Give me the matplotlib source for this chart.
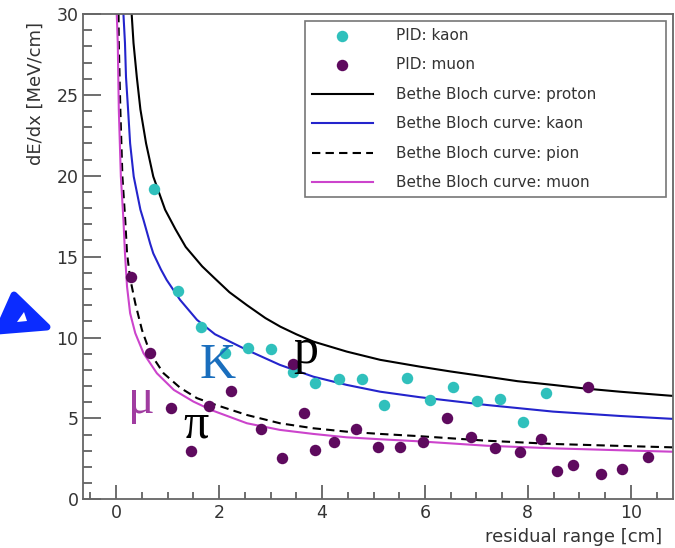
import numpy as np
import matplotlib
matplotlib.use("Agg")
import matplotlib.pyplot as plt
from matplotlib.patches import Polygon

# -----------------------------
# Data
# -----------------------------
kaon_x = [0.74, 1.20, 1.65, 2.12, 2.56, 3.00, 3.44, 3.87, 4.32, 4.77,
          5.21, 5.66, 6.10, 6.55, 7.02, 7.46, 7.91, 8.36]
kaon_y = [19.2, 12.9, 10.65, 9.05, 9.37, 9.3, 7.89, 7.21, 7.44, 7.44,
          5.83, 7.52, 6.14, 6.93, 6.10, 6.20, 4.76, 6.55]

muon_x = [0.28, 0.66, 1.06, 1.45, 1.81, 2.23, 2.81, 3.22, 3.43, 3.65,
          3.87, 4.24, 4.66, 5.08, 5.51, 5.96, 6.42, 6.90, 7.37, 7.84,
          8.25, 8.56, 8.87, 9.17, 9.43, 9.82, 10.34]
muon_y = [13.73, 9.03, 5.67, 2.99, 5.77, 6.72, 4.35, 2.57, 8.35, 5.36,
          3.05, 3.56, 4.33, 3.25, 3.25, 3.56, 5.05, 3.87, 3.19, 2.93,
          3.73, 1.77, 2.14, 6.93, 1.56, 1.87, 2.63]

# Bethe Bloch curves
proton_x = [0.30, 0.336, 0.40, 0.47, 0.58, 0.72, 0.95, 1.15, 1.35, 1.67, 1.9,
            2.2, 2.54, 2.9, 3.19, 3.5, 3.83, 4.48, 5.13, 5.9, 6.5, 7.2, 7.8,
            8.49, 9.1, 9.79, 10.3, 10.82]
proton_y = [30.0, 28.2, 26.1, 24.1, 22.0, 19.95, 17.9, 16.7, 15.6, 14.4, 13.7,
            12.8, 12.0, 11.2, 10.67, 10.2, 9.75, 9.13, 8.62, 8.20, 7.9, 7.58, 7.3,
            7.07, 6.85, 6.65, 6.52, 6.39]

kaonc_x = [0.14, 0.17, 0.19, 0.23, 0.27, 0.34, 0.47, 0.53, 0.66, 0.72, 0.87,
           0.98, 1.24, 1.57, 1.92, 2.54, 3.18, 3.83, 4.48, 5.13, 5.9, 7.2,
           8.49, 9.79, 10.82]
kaonc_y = [30.0, 28.2, 26.1, 24.1, 22.0, 19.95, 17.9, 17.27, 15.8, 15.2, 14.2,
           13.56, 12.33, 11.09, 10.2, 9.23, 8.31, 7.58, 7.07, 6.65, 6.31, 5.83,
           5.42, 5.15, 4.97]

pion_x = [0.045, 0.05, 0.08, 0.12, 0.175, 0.21, 0.27, 0.37, 0.50, 0.66, 0.92,
          1.24, 1.57, 1.92, 2.54, 3.18, 3.83, 4.48, 5.13, 5.9, 7.2, 8.49,
          9.79, 10.82]
pion_y = [30.0, 28.2, 24.1, 19.95, 17.27, 15.2, 13.67, 12.12, 10.47, 9.03, 7.79,
          6.9, 6.25, 5.85, 5.21, 4.70, 4.39, 4.18, 4.04, 3.90, 3.62, 3.42,
          3.30, 3.21]

muonc_x = [0.01, 0.03, 0.05, 0.09, 0.14, 0.17, 0.21, 0.27, 0.37, 0.53, 0.79,
           1.12, 1.50, 1.86, 2.54, 3.18, 3.83, 4.48, 5.13, 5.9, 7.2, 8.49,
           9.79, 10.82]
muonc_y = [30.0, 28.2, 24.1, 19.95, 17.27, 15.2, 13.15, 11.5, 10.27, 9.03, 7.79,
           6.76, 6.04, 5.5, 4.70, 4.29, 4.04, 3.83, 3.71, 3.58, 3.31, 3.15,
           3.03, 2.94]

x_ticks = [0, 2, 4, 6, 8, 10]
y_ticks = [0, 5, 10, 15, 20, 25, 30]

# -----------------------------
# Figure
# -----------------------------
fig = plt.figure(figsize=(6.75, 5.48), dpi=100)
ax = fig.add_axes([0.1234, 0.0889, 0.8736, 0.8856])

ax.plot(proton_x, proton_y, color="black", lw=1.5,
        label="Bethe Bloch curve: proton", zorder=2)
ax.plot(kaonc_x, kaonc_y, color="#2424cc", lw=1.5,
        label="Bethe Bloch curve: kaon", zorder=2)
ax.plot(pion_x, pion_y, color="black", lw=1.5, ls=(0, (4, 2.5)),
        label="Bethe Bloch curve: pion", zorder=2)
ax.plot(muonc_x, muonc_y, color="#cc44cc", lw=1.5,
        label="Bethe Bloch curve: muon", zorder=2)

ax.scatter(kaon_x, kaon_y, s=68, color="#30c0bc", lw=0,
           label="PID: kaon", zorder=3)
ax.scatter(muon_x, muon_y, s=68, color="#5e0a5e", lw=0,
           label="PID: muon", zorder=3)

ax.set_xlim(-0.64, 10.82)
ax.set_ylim(0, 30)

ax.set_xticks(x_ticks)
ax.set_yticks(y_ticks)
ax.set_xticks(np.arange(-0.5, 10.8, 0.5), minor=True)
ax.set_yticks(np.arange(0, 30.1, 1), minor=True)
ax.tick_params(which="both", direction="in", top=False, right=False,
               color="#555555", labelcolor="#333333", labelsize=12.5)
ax.tick_params(axis="y", which="major", length=12.7, width=1.2)
ax.tick_params(axis="y", which="minor", length=6.3, width=1.2)
ax.tick_params(axis="x", which="major", length=10.4, width=1.2)
ax.tick_params(axis="x", which="minor", length=5.2, width=1.2)
for s in ax.spines.values():
    s.set_color("#666666")
    s.set_linewidth(1.3)

# axis titles (ROOT style: at the end of the axes)
fig.text(662 / 675, 1 - 537 / 548, "residual range [cm]", fontsize=13,
         color="#333333", ha="right", va="center")
fig.text(36 / 675, 1 - 22 / 548, "dE/dx [MeV/cm]", fontsize=13,
         color="#333333", ha="center", va="top", rotation=90)

# legend
h, l = ax.get_legend_handles_labels()
order = [4, 5, 0, 1, 2, 3]
leg = ax.legend([h[i] for i in order], [l[i] for i in order],
                loc="upper left", bbox_to_anchor=(0.376, 0.625, 0.612, 0.3606),
                mode="expand", fontsize=11, frameon=True, fancybox=False,
                edgecolor="#555555", handlelength=4.0, handletextpad=1.5,
                borderaxespad=0, labelspacing=0.95, borderpad=0.45)
leg.get_frame().set_linewidth(1.2)
for t in leg.get_texts():
    t.set_color("#333333")

# particle labels
serif = ["Liberation Serif", "DejaVu Serif"]
ax.text(1.62, 7.48, "K", color="#1a6ebd", fontsize=36, family=serif,
        ha="left", va="baseline")
ax.text(3.44, 8.43, "p", color="black", fontsize=36, family=serif,
        ha="left", va="baseline")
ax.text(0.23, 5.32, "\u03bc", color="#a03ca0", fontsize=36, family=serif,
        ha="left", va="baseline")
ax.text(1.30, 3.79, "\u03c0", color="black", fontsize=36, family=serif,
        ha="left", va="baseline")

# blue arrow head on the left, outside the frame
W, H = 675.0, 548.0
def to_fig(pts):
    pts = np.array(pts, dtype=float)
    return np.column_stack([pts[:, 0] / W, 1 - pts[:, 1] / H])

arrow_blue = "#0b2cff"
tri = to_fig([(14, 295), (47, 327), (-2, 331)])
fig.add_artist(Polygon(tri, closed=True, facecolor=arrow_blue,
                       edgecolor=arrow_blue, lw=5, joinstyle="round"))
hole = to_fig([(24, 312), (27, 321), (17, 322)])
fig.add_artist(Polygon(hole, closed=True, facecolor="white", edgecolor="none"))

fig.savefig("out.png", dpi=100)
